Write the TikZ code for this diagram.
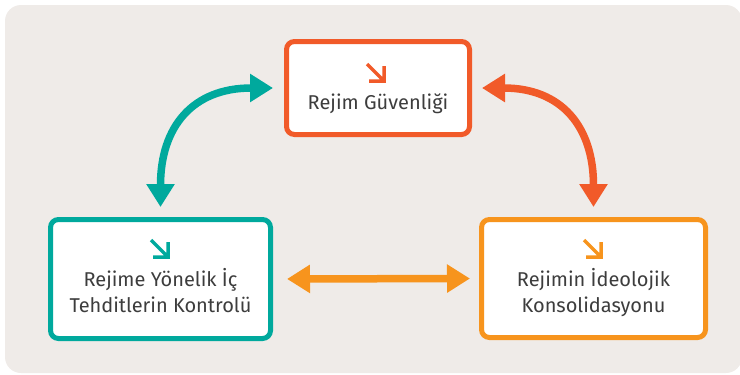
\documentclass[tikz,border=0pt]{standalone}
\usepackage{fontspec}
\setmainfont{Fira Sans}
\usetikzlibrary{arrows.meta}
\definecolor{bgc}{HTML}{EFEBE8}
\definecolor{tealc}{HTML}{00A99D}
\definecolor{redc}{HTML}{F15A29}
\definecolor{orangec}{HTML}{F7941D}
\definecolor{txtc}{HTML}{3D3D3D}
\begin{document}
\begin{tikzpicture}[x=1pt,y=-1pt,
	box/.style={draw=#1, fill=white, line width=5pt, rounded corners=8pt, inner sep=0pt},
	lbl/.style={font=\fontsize{20}{26}\selectfont, text=txtc, align=center, inner sep=0pt, anchor=base},
	arr/.style={line width=7.5pt, {Triangle[width=27pt,length=23pt]}-{Triangle[width=27pt,length=23pt]}},
	icon/.pic={\draw[line width=3.5pt] (-9,-9) -- (8,8) (-7,8) -- (8,8) -- (8,-7);}]
	\useasboundingbox (0,0) rectangle (740,375);
	\fill[bgc, rounded corners=16pt] (5,5) rectangle (742,373);
	\node[box=redc, minimum width=183pt, minimum height=93pt] (guv) at (378,88) {};
	\node[box=tealc, minimum width=220pt, minimum height=119pt] (ic) at (160.5,279) {};
	\node[box=orangec, minimum width=224pt, minimum height=118pt] (ideo) at (593.5,278.5) {};
	\pic[color=redc] at (376,73) {icon};
	\pic[color=tealc] at (160,249) {icon};
	\pic[color=orangec] at (593,249) {icon};
	\node[lbl] (guvT) at (378,109) {Rejim Güvenliği};
	\node[lbl] (icT) at (160.5,312) {Rejime Yönelik İç\\Tehditlerin Kontrolü};
	\node[lbl] (ideoT) at (593.5,312) {Rejimin İdeolojik\\Konsolidasyonu};
	\draw[arr, tealc, shorten <=10pt, shorten >=11pt] (ic.north) to[out=90, in=180, looseness=1.3] (guv.west);
	\draw[arr, redc, shorten <=10pt, shorten >=10pt] (guv.east) to[out=0, in=90, looseness=1.3] (ideo.north);
	\draw[arr, orangec, shorten <=14pt, shorten >=9pt] (ic.east) -- (ideo.west);
\end{tikzpicture}
\end{document}
